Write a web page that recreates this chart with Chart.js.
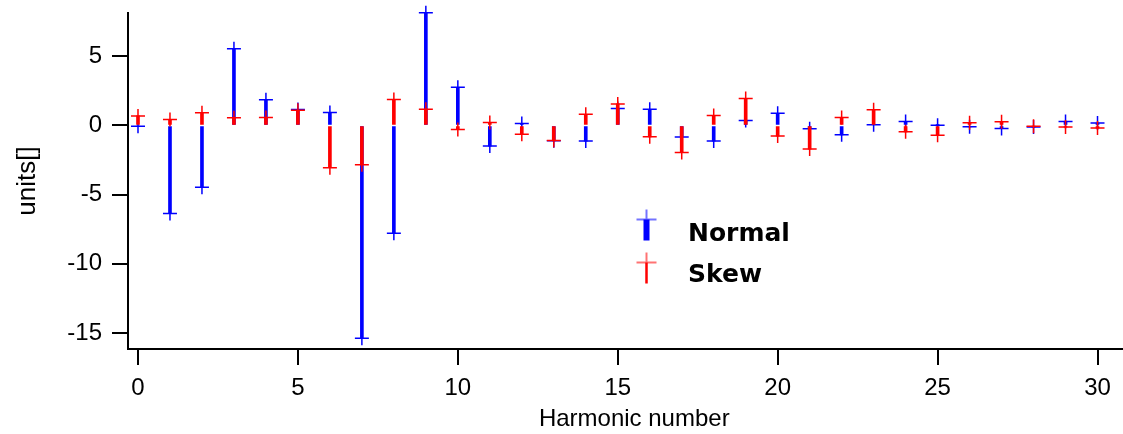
<!DOCTYPE html>
<html>
<head>
<meta charset="utf-8">
<script src="https://cdn.jsdelivr.net/npm/chart.js@4"></script>
<style>
  html, body { margin: 0; padding: 0; background: #fff; overflow: hidden; }
  /* plot frame runs past the right edge of the window */
  #wrap { width: 1149px; height: 434px; }
</style>
</head>
<body>
<div id="wrap"><canvas id="myChart"></canvas></div>
<script>
// harmonic multipole coefficients
const harmonics = [0, 1, 2, 3, 4, 5, 6, 7, 8, 9, 10, 11, 12, 13, 14, 15,
  16, 17, 18, 19, 20, 21, 22, 23, 24, 25, 26, 27, 28, 29, 30];
const normal = [-0.05, -6.37, -4.47, 5.55, 1.85, 1.15, 0.94, -15.38, -7.79, 8.15,
  2.76, -1.49, 0.14, -1.11, -1.13, 1.22, 1.17, -0.84, -1.13, 0.36,
  0.88, -0.24, -0.68, 0.05, 0.29, 0.01, -0.10, -0.22, -0.12, 0.29, 0.17];
const skew = [0.69, 0.43, 0.91, 0.55, 0.58, 1.10, -3.06, -2.84, 1.87, 1.18,
  -0.29, 0.22, -0.63, -1.09, 0.81, 1.56, -0.82, -1.95, 0.72, 1.95,
  -0.77, -1.71, 0.58, 1.13, -0.46, -0.70, 0.19, 0.26, -0.05, -0.12, -0.19];

const xTicks = [0, 5, 10, 15, 20, 25, 30];
const yTicks = [-15, -10, -5, 0, 5];

const BLUE = '#0000ff';
const RED = '#ff0000';

const toPoints = (vals) => harmonics.map((h, i) => ({ x: h, y: vals[i] }));

// drop line from zero plus a cross at the value
const stem = (label, vals, color, order) => ({
  type: 'bar',
  label,
  data: toPoints(vals),
  backgroundColor: color,
  borderWidth: 0,
  barThickness: 3,
  grouped: false,
  order,
});
const marker = (label, vals, color, order) => ({
  type: 'line',
  label,
  data: toPoints(vals),
  showLine: false,
  pointStyle: 'cross',
  pointRadius: 7,
  pointBorderWidth: 1.5,
  pointBorderColor: color,
  pointBackgroundColor: color,
  clip: false,
  order,
});

const crossLegend = {
  id: 'crossLegend',
  afterDraw(chart, args, opts) {
    const ctx = chart.ctx;
    ctx.save();
    opts.items.forEach((it) => {
      const ds = chart.data.datasets[it.dataset];
      const cx = opts.x, cy = it.y;
      // stem below the crossbar
      ctx.fillStyle = ds.backgroundColor;
      ctx.fillRect(cx - it.stem / 2, cy, it.stem, 21);
      // cross
      ctx.strokeStyle = ds.backgroundColor;
      ctx.globalAlpha = 0.55;
      ctx.lineWidth = 2;
      ctx.beginPath();
      ctx.moveTo(cx - 10, cy);
      ctx.lineTo(cx + 10, cy);
      ctx.moveTo(cx, cy - 10);
      ctx.lineTo(cx, cy);
      ctx.stroke();
      ctx.globalAlpha = 1;
      ctx.fillStyle = '#000';
      ctx.font = 'bold 25px "DejaVu Sans"';
      ctx.textBaseline = 'alphabetic';
      ctx.textAlign = 'left';
      ctx.fillText(ds.label, opts.textX, it.baseline);
    });
    ctx.restore();
  },
};

Chart.defaults.font.family = '"Liberation Sans", Arial, sans-serif';
Chart.defaults.font.size = 24;
Chart.defaults.color = '#000';

const zeroPad = (scale) => {
  scale.paddingTop = 0;
  scale.paddingBottom = 0;
  scale.paddingLeft = 0;
  scale.paddingRight = 0;
};

new Chart(document.getElementById('myChart').getContext('2d'), {
  type: 'bar',
  data: {
    datasets: [
      marker('Skew', skew, RED, 0),
      stem('Skew', skew, RED, 1),
      marker('Normal', normal, BLUE, 2),
      stem('Normal', normal, BLUE, 3),
    ],
  },
  plugins: [crossLegend],
  options: {
    responsive: true,
    maintainAspectRatio: false,
    animation: false,
    events: [],
    layout: { padding: { top: 13, right: 0, left: 0, bottom: 0 } },
    plugins: {
      legend: { display: false },
      tooltip: { enabled: false },
      crossLegend: {
        x: 646.5,
        textX: 688,
        items: [
          { dataset: 3, y: 219.5, stem: 6, baseline: 240.7 },
          { dataset: 1, y: 262.5, stem: 2.5, baseline: 281.7 },
        ],
      },
    },
    scales: {
      x: {
        type: 'linear',
        offset: false,
        min: -0.3125,
        max: 31.344,
        afterBuildTicks: (scale) => { scale.ticks = xTicks.map((v) => ({ value: v })); },
        afterFit: (scale) => { scale.height = 85; zeroPad(scale); },
        grid: { offset: false, drawOnChartArea: false, tickLength: 16, lineWidth: 2, color: '#000' },
        border: { display: true, color: '#000', width: 2 },
        ticks: { padding: 9, maxRotation: 0, autoSkip: false },
        title: { display: true, text: 'Harmonic number', padding: { top: 0, bottom: 0 } },
      },
      y: {
        type: 'linear',
        min: -16.16,
        max: 8.13,
        afterBuildTicks: (scale) => { scale.ticks = yTicks.map((v) => ({ value: v })); },
        afterFit: (scale) => { scale.width = 128; zeroPad(scale); },
        grid: { drawOnChartArea: false, tickLength: 16, lineWidth: 2, color: '#000' },
        border: { display: true, color: '#000', width: 2 },
        ticks: { padding: 10, autoSkip: false },
        title: { display: true, text: 'units[]', font: { size: 26 }, padding: { top: 12, bottom: 0 } },
      },
    },
  },
});
</script>
</body>
</html>
